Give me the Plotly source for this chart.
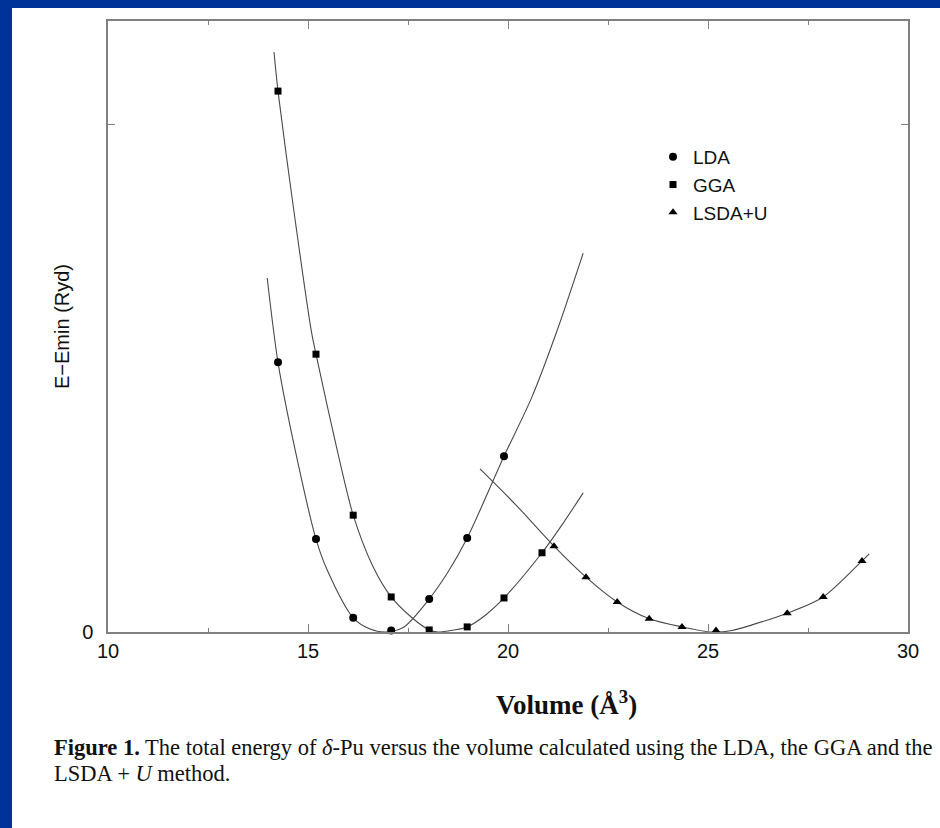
import plotly.graph_objects as go

# ---- data (Volume in Å^3, E-Emin in Ryd) ----
lda_v = [14.25, 15.2, 16.13, 17.08, 18.03, 18.98, 19.9]
lda_e = [0.0531, 0.0183, 0.0028, 0.0003, 0.0065, 0.0185, 0.0346]

gga_v = [14.25, 15.2, 16.13, 17.08, 18.03, 18.98, 19.9, 20.85]
gga_e = [0.1065, 0.0547, 0.0230, 0.0069, 0.0004, 0.0010, 0.0067, 0.0156]

lsda_v = [21.15, 21.95, 22.73, 23.53, 24.35, 25.2, 26.98, 27.88, 28.85]
lsda_e = [0.0169, 0.0108, 0.0059, 0.0026, 0.0010, 0.0003, 0.0037, 0.0069, 0.0140]

# fitted curves
lda_fit_v = [13.98, 14.25, 14.68, 15.2, 15.48, 16.13, 16.55, 16.95, 17.4, 18.03, 18.5, 18.98, 19.9, 20.6, 21.23, 21.88]
lda_fit_e = [0.0697, 0.0531, 0.0358, 0.0183, 0.0122, 0.0028, 0.0006, 0.0, 0.0010, 0.0065, 0.0118, 0.0185, 0.0346, 0.0463, 0.0594, 0.0746]

gga_fit_v = [14.15, 14.25, 14.6, 15.08, 15.2, 15.73, 16.13, 16.63, 17.08, 17.6, 18.03, 18.25, 18.5, 18.98, 19.45, 19.9, 20.85, 21.35, 21.88]
gga_fit_e = [0.1142, 0.1065, 0.0856, 0.0594, 0.0547, 0.0358, 0.0230, 0.0128, 0.0069, 0.0028, 0.0004, 0.0, 0.0002, 0.0010, 0.0034, 0.0067, 0.0156, 0.0211, 0.0274]

lsda_fit_v = [19.3, 20.2, 21.15, 21.95, 22.73, 23.53, 24.35, 25.1, 25.6, 26.1, 26.98, 27.88, 28.85, 29.03]
lsda_fit_e = [0.0321, 0.0250, 0.0169, 0.0108, 0.0059, 0.0026, 0.0010, 0.0, 0.0003, 0.0014, 0.0037, 0.0069, 0.0140, 0.0154]

x_ticks = [10, 15, 20, 25, 30]
x_minor = [12.5, 17.5, 22.5, 27.5]
y_ticks = [0, 0.1]
y_ticktext = ["0", ""]

SANS = "Liberation Sans, Arial, sans-serif"
SERIF = "Liberation Serif, Times New Roman, serif"
LINE = "#4a4a4a"
AXIS = "#808080"

fig = go.Figure()
for v, e in [(lda_fit_v, lda_fit_e), (gga_fit_v, gga_fit_e), (lsda_fit_v, lsda_fit_e)]:
    fig.add_trace(go.Scatter(x=v, y=e, mode="lines", line=dict(color=LINE, width=1.1, shape="spline", smoothing=0.8),
                             showlegend=False, hoverinfo="skip", cliponaxis=False))

fig.add_trace(go.Scatter(x=lda_v, y=lda_e, mode="markers", name="LDA",
                         marker=dict(symbol="circle", size=8, color="black"), cliponaxis=False))
fig.add_trace(go.Scatter(x=gga_v, y=gga_e, mode="markers", name="GGA",
                         marker=dict(symbol="square", size=7, color="black"), cliponaxis=False))
fig.add_trace(go.Scatter(x=lsda_v, y=lsda_e, mode="markers", name="LSDA+U",
                         marker=dict(symbol="triangle-up", size=8, color="black"), cliponaxis=False))

W, H = 940, 828
L, R, T, B = 108, 32, 21, 196
pw, ph = W - L - R, H - T - B

def px(xp):
    return (xp - L) / pw

def py(yp):
    return (H - B - yp) / ph

fig.update_layout(
    width=W, height=H,
    margin=dict(l=L, r=R, t=T, b=B, pad=0),
    paper_bgcolor="white", plot_bgcolor="white",
    font=dict(family=SANS, color="#111111"),
    showlegend=True,
    legend=dict(x=px(653), y=py(138), xanchor="left", yanchor="top",
                bgcolor="rgba(0,0,0,0)", font=dict(family=SANS, size=19, color="#111111"),
                itemwidth=30, tracegroupgap=0),
    xaxis=dict(range=[10, 30], tickvals=x_ticks, ticks="inside", ticklen=8, tickcolor=AXIS, tickwidth=1.2,
               showline=True, linecolor=AXIS, linewidth=1.5, mirror="ticks", showgrid=False, zeroline=False,
               tickfont=dict(family=SANS, size=20, color="#111111"),
               minor=dict(tickvals=x_minor, ticks="inside", ticklen=4, tickcolor=AXIS, tickwidth=1)),
    yaxis=dict(range=[0, 0.1203], tickvals=y_ticks, ticktext=y_ticktext, ticks="inside", ticklen=7,
               tickcolor=AXIS, tickwidth=1.2, showline=True, linecolor=AXIS, linewidth=1.5, mirror="ticks",
               showgrid=False, zeroline=False, ticklabelstandoff=9,
               tickfont=dict(family=SANS, size=20, color="#111111")),
    shapes=[
        dict(type="rect", xref="paper", yref="paper", x0=px(0), x1=px(W), y0=py(0), y1=py(8),
             fillcolor="#003399", line=dict(width=0), layer="above"),
        dict(type="rect", xref="paper", yref="paper", x0=px(0), x1=px(12), y0=py(0), y1=py(H),
             fillcolor="#003399", line=dict(width=0), layer="above"),
    ],
    annotations=[
        dict(text="E\u2212Emin (Ryd)", x=px(62), y=py(327), xref="paper", yref="paper", textangle=-90,
             showarrow=False, xanchor="center", yanchor="middle", font=dict(family=SANS, size=20, color="#111111")),
        dict(text="<b>Volume (Å<sup>3</sup>)</b>", x=px(566), y=py(703), xref="paper", yref="paper",
             showarrow=False, xanchor="center", yanchor="middle", font=dict(family=SERIF, size=27, color="#111111")),
        dict(text="<b>Figure 1.</b> The total energy of <i>δ</i>-Pu versus the volume calculated using the LDA, the GGA and the",
             x=px(52), y=py(747), xref="paper", yref="paper", showarrow=False, xanchor="left", yanchor="middle",
             font=dict(family=SERIF, size=22.5, color="#111111")),
        dict(text="LSDA + <i>U</i> method.",
             x=px(52), y=py(773), xref="paper", yref="paper", showarrow=False, xanchor="left", yanchor="middle",
             font=dict(family=SERIF, size=22.5, color="#111111")),
    ],
)

fig.write_html("out.html")
